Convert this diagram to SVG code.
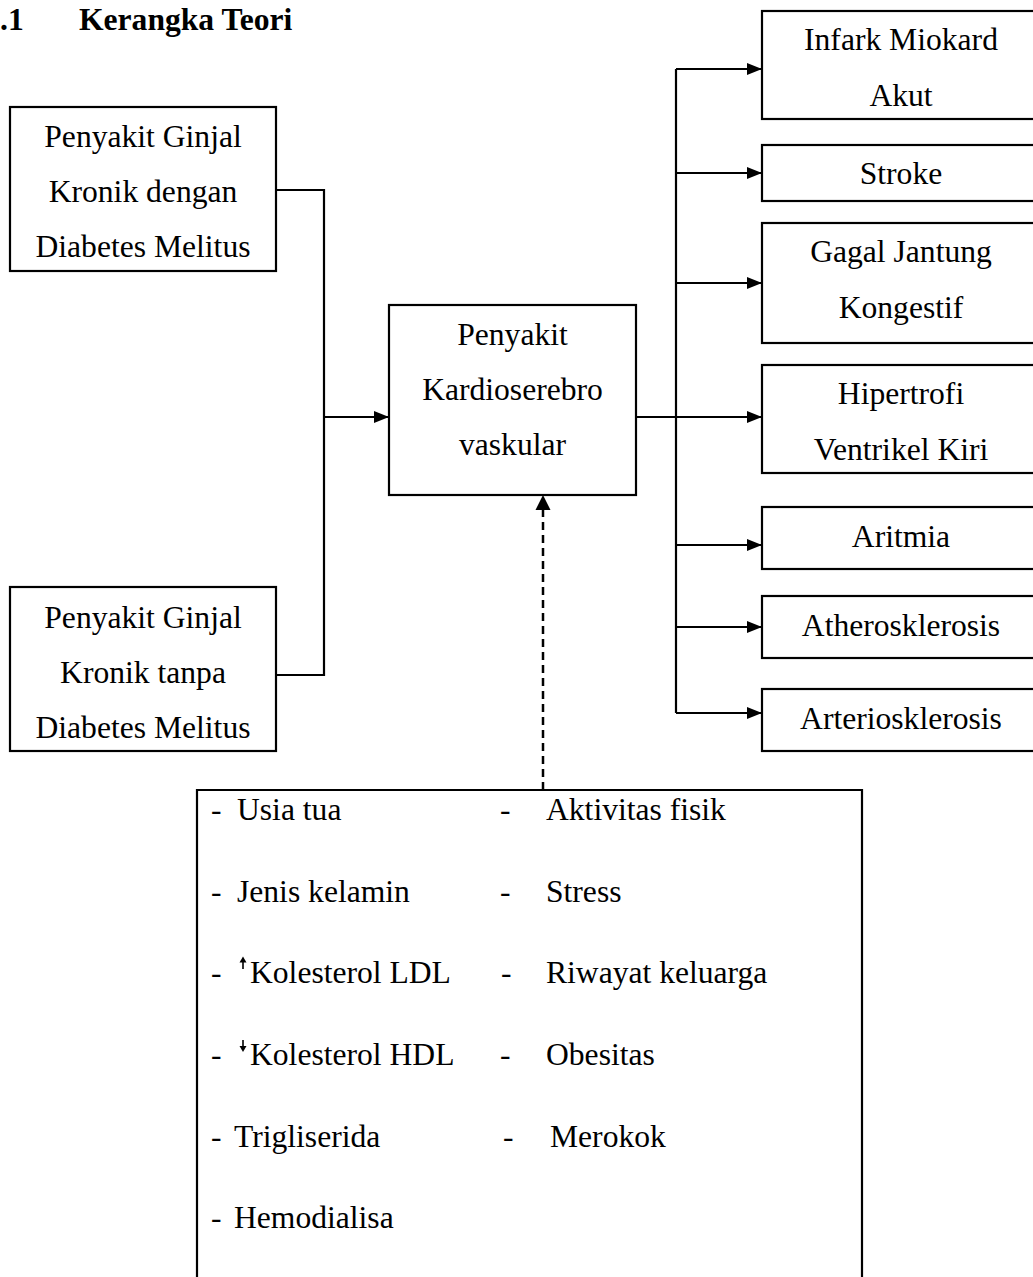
<svg xmlns="http://www.w3.org/2000/svg" width="1033" height="1277" viewBox="0 0 1033 1277">
<defs>
<marker id="ah" viewBox="0 0 15 12" refX="15" refY="6" markerWidth="15" markerHeight="12" markerUnits="userSpaceOnUse" orient="auto">
<path d="M0,0 L15,6 L0,12 Z" fill="#000"/>
</marker>
<style>
.box{fill:#fff;stroke:#000;stroke-width:2.2}
.t{font-family:"Liberation Serif","Times New Roman",serif;font-size:31.6px;fill:#000}
.c{text-anchor:middle}
.ln{fill:none;stroke:#000;stroke-width:2.2}
.ar{marker-end:url(#ah)}
.dash{stroke-dasharray:8 5;stroke-width:2.5}
.sm{fill:none;stroke:#000;stroke-width:1.6}
</style>
</defs>
<rect width="1033" height="1277" fill="#fff"/>

<g id="title">
<text class="t" x="0" y="30" font-weight="bold">.1</text>
<text class="t" x="79" y="30" font-weight="bold">Kerangka Teori</text>
</g>

<g id="connectors">
<polyline class="ln" points="276,190 324,190 324,675 276,675"/>
<line class="ln ar" x1="324" y1="417" x2="389" y2="417"/>
<line class="ln ar" x1="636" y1="417" x2="762" y2="417"/>
<line class="ln" x1="676" y1="69" x2="676" y2="713"/>
<line class="ln ar" x1="676" y1="69" x2="762" y2="69"/>
<line class="ln ar" x1="676" y1="173" x2="762" y2="173"/>
<line class="ln ar" x1="676" y1="283" x2="762" y2="283"/>
<line class="ln ar" x1="676" y1="545" x2="762" y2="545"/>
<line class="ln ar" x1="676" y1="627" x2="762" y2="627"/>
<line class="ln ar" x1="676" y1="713" x2="762" y2="713"/>
<line class="ln dash" x1="543" y1="790" x2="543" y2="509"/>
<path d="M535.5,510 L543,495 L550.5,510 Z" fill="#000"/>
</g>

<g id="pgk-dm">
<rect class="box" x="10" y="107" width="266" height="164"/>
<text class="t c" x="143" y="147">Penyakit Ginjal</text>
<text class="t c" x="143" y="202">Kronik dengan</text>
<text class="t c" x="143" y="257">Diabetes Melitus</text>
</g>

<g id="pgk-non-dm">
<rect class="box" x="10" y="587" width="266" height="164"/>
<text class="t c" x="143" y="628">Penyakit Ginjal</text>
<text class="t c" x="143" y="683">Kronik tanpa</text>
<text class="t c" x="143" y="738">Diabetes Melitus</text>
</g>

<g id="pkv">
<rect class="box" x="389" y="305" width="247" height="190"/>
<text class="t c" x="512.5" y="345">Penyakit</text>
<text class="t c" x="512.5" y="400">Kardioserebro</text>
<text class="t c" x="512.5" y="455">vaskular</text>
</g>

<g id="ima">
<rect class="box" x="762" y="11" width="280" height="108"/>
<text class="t c" x="901" y="50">Infark Miokard</text>
<text class="t c" x="901" y="106">Akut</text>
</g>
<g id="stroke">
<rect class="box" x="762" y="145" width="280" height="56"/>
<text class="t c" x="901" y="184">Stroke</text>
</g>
<g id="gjk">
<rect class="box" x="762" y="223" width="280" height="120"/>
<text class="t c" x="901" y="262">Gagal Jantung</text>
<text class="t c" x="901" y="318">Kongestif</text>
</g>
<g id="lvh">
<rect class="box" x="762" y="365" width="280" height="108"/>
<text class="t c" x="901" y="404">Hipertrofi</text>
<text class="t c" x="901" y="460">Ventrikel Kiri</text>
</g>
<g id="aritmia">
<rect class="box" x="762" y="507" width="280" height="62"/>
<text class="t c" x="901" y="547">Aritmia</text>
</g>
<g id="athero">
<rect class="box" x="762" y="596" width="280" height="62"/>
<text class="t c" x="901" y="636">Atherosklerosis</text>
</g>
<g id="arterio">
<rect class="box" x="762" y="689" width="280" height="62"/>
<text class="t c" x="901" y="729">Arteriosklerosis</text>
</g>

<g id="faktor-risiko">
<path class="box" d="M197,1290 L197,790 L862,790 L862,1290"/>
<text class="t" x="211" y="820">-</text><text class="t" x="237" y="820">Usia tua</text>
<text class="t" x="211" y="902">-</text><text class="t" x="237" y="902">Jenis kelamin</text>
<text class="t" x="211" y="983">-</text><text class="t" x="250" y="983">Kolesterol LDL</text>
<line class="sm" x1="243" y1="969" x2="243" y2="961"/>
<path d="M239.5,962.5 L243,956.5 L246.5,962.5 Z" fill="#000"/>
<text class="t" x="211" y="1065">-</text><text class="t" x="250" y="1065">Kolesterol HDL</text>
<line class="sm" x1="243" y1="1040" x2="243" y2="1047"/>
<path d="M239.5,1046 L243,1052 L246.5,1046 Z" fill="#000"/>
<text class="t" x="211" y="1147">-</text><text class="t" x="234" y="1147">Trigliserida</text>
<text class="t" x="211" y="1228">-</text><text class="t" x="234" y="1228">Hemodialisa</text>
<text class="t" x="500" y="820">-</text><text class="t" x="546" y="820">Aktivitas fisik</text>
<text class="t" x="500" y="902">-</text><text class="t" x="546" y="902">Stress</text>
<text class="t" x="501" y="983">-</text><text class="t" x="546" y="983">Riwayat keluarga</text>
<text class="t" x="500" y="1065">-</text><text class="t" x="546" y="1065">Obesitas</text>
<text class="t" x="503" y="1147">-</text><text class="t" x="550" y="1147">Merokok</text>
</g>
</svg>
